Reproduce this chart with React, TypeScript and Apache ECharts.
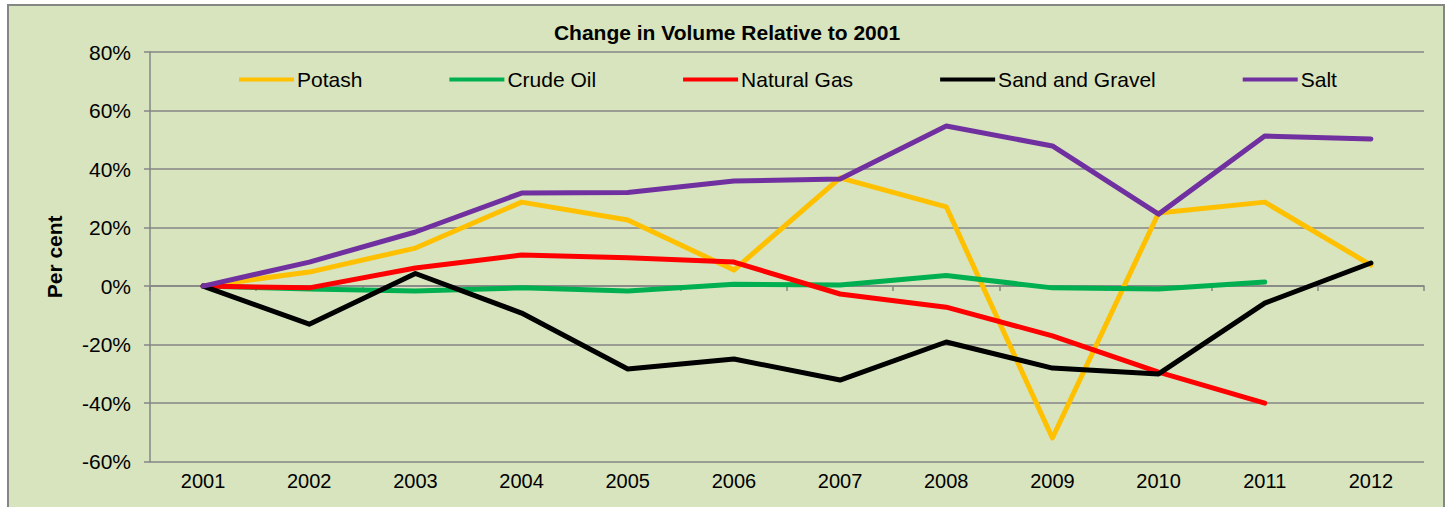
import React, { useEffect, useRef } from "react";
import * as echarts from "echarts";

const years = ["2001","2002","2003","2004","2005","2006","2007","2008","2009","2010","2011","2012"];
const potash = [0, 4.8, 13, 28.7, 22.6, 5.5, 37, 27.1, -51.9, 25, 28.7, 7.2];
const crudeOil = [0, -1, -1.7, -0.6, -1.7, 0.6, 0.4, 3.6, -0.6, -1, 1.4, null];
const naturalGas = [0, -0.6, 6.2, 10.6, 9.7, 8.2, -2.7, -7.2, -17, -29.4, -40, null];
const sandGravel = [0, -13, 4.3, -9.2, -28.3, -24.9, -32.1, -19.1, -28, -30, -5.8, 7.9];
const salt = [0, 8.2, 18.5, 31.8, 32, 35.9, 36.6, 54.7, 47.9, 24.6, 51.3, 50.3];

const seriesDefs = [
  { name: "Potash", data: potash, color: "#FFC000" },
  { name: "Crude Oil", data: crudeOil, color: "#00B050" },
  { name: "Natural Gas", data: naturalGas, color: "#FF0000" },
  { name: "Sand and Gravel", data: sandGravel, color: "#000000" },
  { name: "Salt", data: salt, color: "#7030A0" },
];

const FONT = "Liberation Sans, Arial, sans-serif";

export default function App() {
  const ref = useRef<HTMLDivElement>(null);
  useEffect(() => {
    if (!ref.current) return;
    const chart = echarts.init(ref.current, null, { renderer: "svg" });
    chart.setOption({
      animation: false,
      backgroundColor: "#ffffff",
      graphic: [
        {
          type: "rect",
          z: -10,
          shape: { x: 8, y: 5, width: 1436, height: 510 },
          style: { fill: "#D7E4BD", stroke: "#868686", lineWidth: 2 },
        },
      ],
      title: {
        text: "Change in Volume Relative to 2001",
        left: 722,
        textAlign: "center",
        top: 16.5,
        textStyle: { fontFamily: FONT, fontSize: 21, fontWeight: "bold", color: "#000" },
      },
      legend: {
        left: 239,
        top: 69,
        padding: 0,
        itemWidth: 55,
        itemHeight: 4,
        itemGap: 87,
        icon: "rect",
        textStyle: { fontFamily: FONT, fontSize: 21, color: "#000", padding: [0, 0, 0, -2] },
        data: seriesDefs.map((s) => s.name),
      },
      grid: { left: 150, right: 24, top: 52, bottom: 45.3, containLabel: false },
      xAxis: [
        {
          type: "category",
          data: years,
          boundaryGap: true,
          axisLine: { onZero: true, lineStyle: { color: "#868686", width: 1.5 } },
          axisTick: { show: true, length: 5, interval: 0, lineStyle: { color: "#868686", width: 1.5 } },
          axisLabel: { show: false },
          splitLine: { show: false },
        },
        {
          type: "category",
          data: years,
          position: "bottom",
          boundaryGap: true,
          axisLine: { show: false, onZero: false },
          axisTick: { show: false },
          axisLabel: { show: true, interval: 0, fontFamily: FONT, fontSize: 20, color: "#000", margin: 9 },
          splitLine: { show: false },
        },
      ],
      yAxis: {
        type: "value",
        min: -60,
        max: 80,
        interval: 20,
        name: "Per cent",
        nameLocation: "middle",
        nameGap: 85,
        nameTextStyle: { fontFamily: FONT, fontSize: 21, fontWeight: "bold", color: "#000" },
        axisLine: { show: true, lineStyle: { color: "#868686", width: 1.5 } },
        axisTick: { show: true, length: 6, lineStyle: { color: "#868686", width: 1.5 } },
        axisLabel: { fontFamily: FONT, fontSize: 21, color: "#000", margin: 19, formatter: (v: number) => v + "%" },
        splitLine: { show: true, lineStyle: { color: "#868686", width: 1.5 } },
      },
      series: seriesDefs.map((s) => ({
        name: s.name,
        type: "line",
        xAxisIndex: 0,
        data: s.data,
        symbol: "none",
        connectNulls: false,
        lineStyle: { color: s.color, width: 5, cap: "round", join: "round" },
        itemStyle: { color: s.color },
      })),
    });
    return () => chart.dispose();
  }, []);
  return <div ref={ref} style={{ position: "fixed", left: 0, top: 0, width: 1448, height: 507 }} />;
}
